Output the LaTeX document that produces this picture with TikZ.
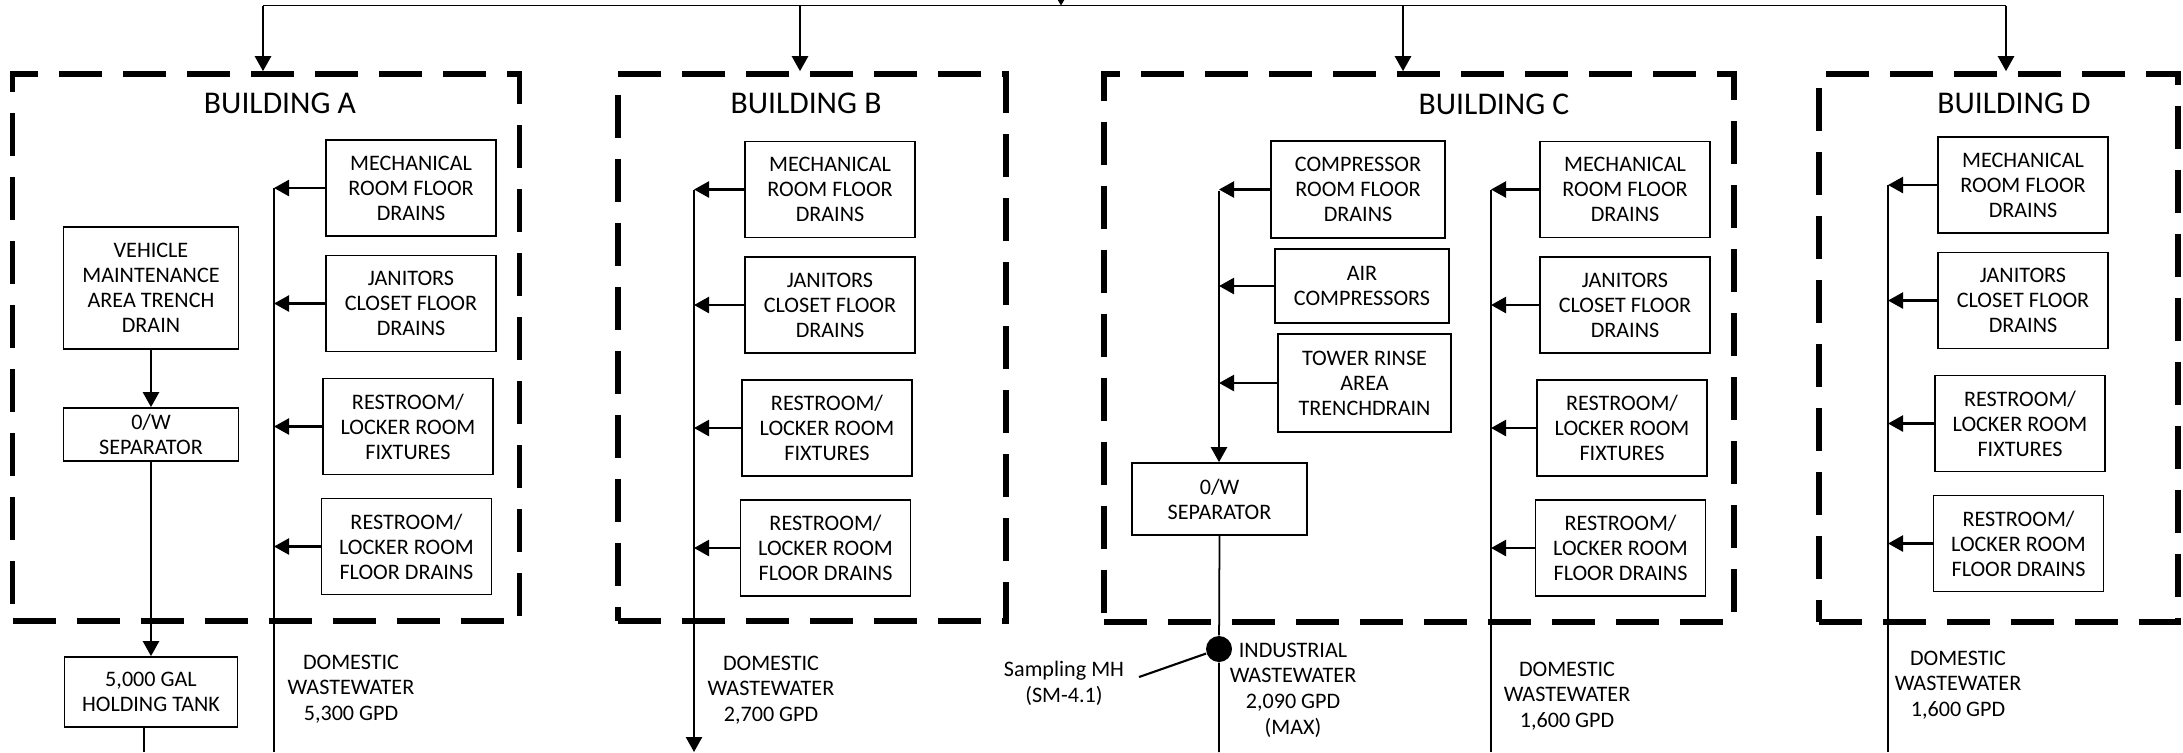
\documentclass[tikz,border=0pt]{standalone}
\usepackage{fontspec}
\setmainfont{Carlito}
\usetikzlibrary{arrows.meta,calc}

\tikzset{
  unit/.style={draw, line width=0.5pt, align=center, inner sep=0pt, font=\fontsize{6.3}{7.1}\selectfont},
  drainbox/.style={unit, minimum width=1.70cm, minimum height=0.96cm},
  bldg/.style={draw, line width=1.6pt, dash pattern=on 4.3mm off 2.1mm, inner sep=0pt},
  flow/.style={-{Triangle[length=1.5mm,width=1.6mm]}, line width=0.7pt},
  pipe/.style={line width=0.7pt},
  lbl/.style={align=center, font=\fontsize{6.3}{7.3}\selectfont},
  title/.style={font=\fontsize{9}{11}\selectfont},
}

\begin{document}
\begin{tikzpicture}[y=-1cm]
\useasboundingbox (0,0) rectangle (21.83,7.52);

% building outlines
\node[bldg, minimum width=5.07cm, minimum height=5.47cm] (bA) at (2.66,3.475) {};
\node[bldg, minimum width=3.88cm, minimum height=5.47cm] (bB) at (8.12,3.475) {};
\node[bldg, minimum width=6.30cm, minimum height=5.48cm] (bC) at (14.19,3.48) {};
\node[bldg, minimum width=3.59cm, minimum height=5.48cm] (bD) at (19.985,3.48) {};
\node[title] (tA) at (2.80,1.03) {BUILDING A};
\node[title] (tB) at (8.06,1.03) {BUILDING B};
\node[title] (tC) at (14.94,1.04) {BUILDING C};
\node[title] (tD) at (20.14,1.03) {BUILDING D};

% supply header
\coordinate (src) at (10.61,-0.05);
\coordinate (hA) at (2.63,0.055);
\coordinate (hB) at (8.00,0.055);
\coordinate (hC) at (14.03,0.055);
\coordinate (hD) at (20.06,0.055);
\draw[line width=0.5pt] (hA) -- (hD);
\draw[-{Triangle[length=0.8mm,width=0.9mm]}, line width=0.5pt] (src) -- (src |- hA);
\foreach \b in {A,B,C,D}
  \draw[flow] (h\b) -- (h\b |- b\b.north);

% domestic drains, same in every building
\foreach \b/\bx/\lx/\my in {A/4.11/2.74/1.88, B/8.30/6.94/1.895, C/16.25/14.91/1.895, D/20.23/18.88/1.85} {
  \node[drainbox] (mech\b) at (\bx,\my) {MECHANICAL\\ROOM FLOOR\\DRAINS};
  \node[drainbox] (jan\b) at (\bx,\my+1.155) {JANITORS\\CLOSET FLOOR\\DRAINS};
  \node[drainbox] (fix\b) at (\bx-0.03,\my+2.385) {RESTROOM/\\LOCKER ROOM\\FIXTURES};
  \node[drainbox] (flr\b) at (\bx-0.045,\my+3.585) {RESTROOM/\\LOCKER ROOM\\FLOOR DRAINS};
  \coordinate (top\b) at (\lx,\my);
  \coordinate (bot\b) at (\lx,7.52);
  \foreach \n in {mech,jan,fix,flr}
    \draw[flow] (\n\b.west) -- (\n\b.west -| top\b);
}
\draw[pipe] (topA) -- (botA);
\draw[flow] (topB) -- (botB);
\draw[pipe] (topC) -- (botC);
\draw[pipe] (topD) -- (botD);

\node[lbl] (dA) at (3.51,6.89) {DOMESTIC\\WASTEWATER\\5,300 GPD};
\node[lbl] (dB) at (7.71,6.90) {DOMESTIC\\WASTEWATER\\2,700 GPD};
\node[lbl] (dC) at (15.67,6.96) {DOMESTIC\\WASTEWATER\\1,600 GPD};
\node[lbl] (dD) at (19.58,6.85) {DOMESTIC\\WASTEWATER\\1,600 GPD};

% building A: trench drain to holding tank
\node[unit, minimum width=1.75cm, minimum height=1.22cm] (veh) at (1.51,2.88) {VEHICLE\\MAINTENANCE\\AREA TRENCH\\DRAIN};
\node[unit, minimum width=1.75cm, minimum height=0.53cm] (sepA) at (1.51,4.345) {0/W\\SEPARATOR};
\node[unit, minimum width=1.73cm, minimum height=0.70cm] (tank) at (1.51,6.92) {5,000 GAL\\HOLDING TANK};
\draw[flow] (veh) -- (sepA);
\draw[flow] (sepA) -- (tank);
\coordinate (tankout) at (1.44,7.52);
\draw[pipe] (tank.south -| tankout) -- (tankout);

% building C: industrial line
\node[unit, minimum width=1.74cm, minimum height=0.97cm] (comp) at (13.58,1.895) {COMPRESSOR\\ROOM FLOOR\\DRAINS};
\node[unit, minimum width=1.74cm, minimum height=0.74cm] (air) at (13.62,2.86) {AIR\\COMPRESSORS};
\node[unit, minimum width=1.73cm, minimum height=0.98cm] (tower) at (13.645,3.83) {TOWER RINSE\\AREA\\TRENCHDRAIN};
\node[unit, minimum width=1.75cm, minimum height=0.72cm] (sepC) at (12.195,4.99) {0/W\\SEPARATOR};
\coordinate (topI) at (12.19,1.91);
\foreach \n in {comp,air,tower}
  \draw[flow] (\n.west) -- (\n.west -| topI);
\draw[flow] (topI) -- (topI |- sepC.north);
\node[circle, fill, inner sep=0pt, minimum size=0.26cm] (mh) at (12.19,6.49) {};
\coordinate (botI) at (12.19,7.52);
\draw[line width=0.5pt] (sepC.south) -- (mh) -- (botI);
\node[lbl] (smh) at (10.64,6.83) {Sampling MH\\(SM-4.1)};
\coordinate (lead) at (11.39,6.77);
\draw[line width=0.6pt] (lead) -- (mh);
\node[lbl] (ind) at (12.93,6.90) {INDUSTRIAL\\WASTEWATER\\2,090 GPD\\(MAX)};
\end{tikzpicture}
\end{document}
